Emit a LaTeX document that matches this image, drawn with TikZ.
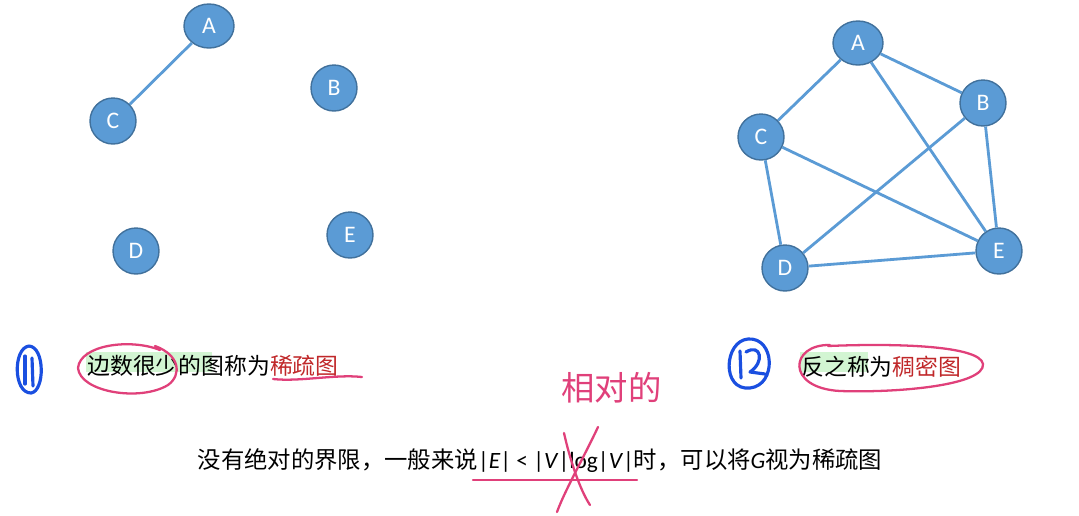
\documentclass[tikz,border=0pt]{standalone}
\usepackage{fontspec}
\setmainfont{Carlito}
\newfontfamily\cjk{Noto Sans CJK SC}
\definecolor{vfill}{HTML}{5B9BD5}
\definecolor{vline}{HTML}{41719C}
\definecolor{inkpink}{HTML}{E0407A}
\definecolor{inkblue}{HTML}{1A4FE0}
\definecolor{darkred}{HTML}{C0282A}
\definecolor{hilite}{HTML}{D2F5D2}
\tikzset{
  vtx/.style={draw=vline, fill=vfill, circle, line width=0.8pt, minimum size=0.92cm, inner sep=0pt,
    text=white, font=\fontsize{13.5}{15}\selectfont},
  vtxA/.style={vtx, ellipse, minimum width=1.0cm, minimum height=0.88cm},
  edge/.style={draw=vfill, line width=1.6pt},
  ink/.style={line width=1.3pt, line cap=round, line join=round},
  txt/.style={font=\fontsize{13}{15}\selectfont, inner sep=0pt}
}
\usetikzlibrary{shapes.geometric}
\begin{document}
\begin{tikzpicture}[x=0.02cm, y=-0.02cm]
        \useasboundingbox (0,0) rectangle (1079,515);

        % 稀疏图
        \node[vtxA] (a1) at (209,26) {A};
        \node[vtx] (b1) at (334,88) {B};
        \node[vtx] (c1) at (113,121) {C};
        \node[vtx] (d1) at (136,251) {D};
        \node[vtx] (e1) at (350,235) {E};
        \draw[edge] (a1) -- (c1);

        % 稠密图
        \node[vtxA] (a2) at (858,43) {A};
        \node[vtx] (b2) at (983,103) {B};
        \node[vtx] (c2) at (761,137) {C};
        \node[vtx] (d2) at (785,268) {D};
        \node[vtx] (e2) at (999,251) {E};
        \draw[edge] (a2) -- (c2);
        \draw[edge] (a2) -- (b2);
        \draw[edge] (a2) -- (e2);
        \draw[edge] (b2) -- (d2);
        \draw[edge] (b2) -- (e2);
        \draw[edge] (c2) -- (e2);
        \draw[edge] (c2) -- (d2);
        \draw[edge] (d2) -- (e2);

        % 高亮
        \fill[hilite] (86,352) rectangle (212,372);
        \fill[hilite] (800,352) rectangle (868,372);

        % 文字
        \node[txt, anchor=west] (sparse) at (87,366) {\cjk 边数很少的图称为\textcolor{darkred}{稀疏图}};
        \node[txt, anchor=west] (dense) at (801,367) {\cjk 反之称为\textcolor{darkred}{稠密图}};
        \node[txt, font=\fontsize{13.3}{15}\selectfont] (rule) at (540,461) {{\cjk 没有绝对的界限，一般来说}|\textit{E}| < |\textit{V}|log|\textit{V}|{\cjk 时，可以将}\textit{G}{\cjk 视为稀疏图}};
        \node[txt, text=inkpink, font=\fontsize{19}{20}\selectfont, anchor=west] (rel) at (561,388) {\cjk 相对的};

        % 手写标注
        \draw[ink, inkblue, line width=1.8pt] (29,346) .. controls (13,348) and (13,393) .. (31,393) .. controls (45,391) and (45,347) .. (29,346);
        \draw[ink, inkblue, line width=1.8pt] (25,356) -- (25,384);
        \draw[ink, inkblue, line width=1.8pt] (32,358) -- (33,386);
        \draw[ink, inkblue, line width=1.8pt] (748,339) .. controls (724,341) and (721,391) .. (750,388) .. controls (777,385) and (775,337) .. (748,339);
        \draw[ink, inkblue, line width=1.8pt] (740,351) -- (741,378);
        \draw[ink, inkblue, line width=1.8pt] (746,352) .. controls (761,343) and (765,362) .. (750,372) -- (765,374);
        \draw[ink, inkpink] (160,350) .. controls (130,338) and (80,345) .. (78,368) .. controls (80,392) and (140,402) .. (168,385) .. controls (182,375) and (180,355) .. (155,346);
        \draw[ink, inkpink] (273,379) .. controls (300,382) and (335,374) .. (362,377);
        \draw[ink, inkpink] (830,345) .. controls (790,344) and (785,388) .. (840,391) .. controls (900,393) and (985,385) .. (983,364) .. controls (980,346) and (900,343) .. (828,346);
        \draw[ink, inkpink] (473,480) -- (637,480);
        \draw[ink, inkpink] (598,427) .. controls (585,455) and (565,490) .. (557,512);
        \draw[ink, inkpink] (564,433) .. controls (570,460) and (580,490) .. (590,505);
\end{tikzpicture}
\end{document}
